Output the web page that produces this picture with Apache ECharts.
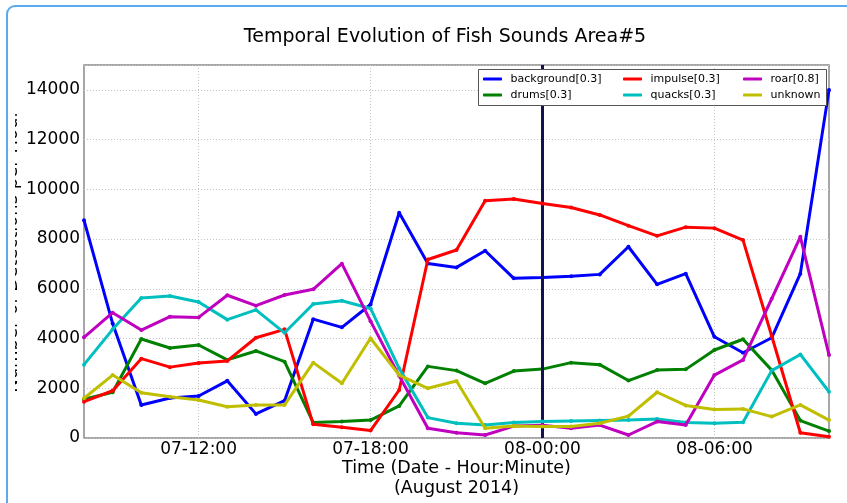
<!DOCTYPE html>
<html>
<head>
<meta charset="utf-8">
<title>Temporal Evolution of Fish Sounds Area#5</title>
<script src="https://cdn.jsdelivr.net/npm/echarts@6/dist/echarts.min.js"></script>
<style>
  html, body { margin: 0; padding: 0; background: #ffffff; overflow: hidden; }
  #frame {
    position: absolute; left: 6px; top: 5px; width: 900px; height: 600px;
    border: 2px solid #5aaaf0; border-radius: 9px; box-sizing: border-box;
  }
  #chart { position: absolute; left: 15px; top: 8px; width: 832px; height: 495px; }
</style>
</head>
<body>
<div id="frame"></div>
<div id="chart"></div>
<script>
// Hourly sample times (day-hour:minute), August 2014
const hours = [
  '07-08:00', '07-09:00', '07-10:00', '07-11:00', '07-12:00', '07-13:00', '07-14:00',
  '07-15:00', '07-16:00', '07-17:00', '07-18:00', '07-19:00', '07-20:00', '07-21:00',
  '07-22:00', '07-23:00', '08-00:00', '08-01:00', '08-02:00', '08-03:00', '08-04:00',
  '08-05:00', '08-06:00', '08-07:00', '08-08:00', '08-09:00', '08-10:00'
];
const xTickLabels = ['07-12:00', '07-18:00', '08-00:00', '08-06:00'];
const markerTime = '08-00:00';

// Sound counts per class
const background = [8760, 4600, 1330, 1610, 1690, 2300, 970, 1500, 4780, 4450, 5370, 9060, 7020, 6860, 7530, 6420, 6450, 6500, 6580, 7690, 6180, 6610, 4070, 3430, 4030, 6610, 13990];
const drums      = [1560, 1840, 3980, 3620, 3740, 3140, 3500, 3070, 620, 660, 720, 1290, 2880, 2710, 2200, 2690, 2770, 3030, 2950, 2310, 2730, 2760, 3540, 3970, 2730, 700, 280];
const impulse    = [1460, 1900, 3190, 2850, 3020, 3100, 4030, 4370, 550, 430, 300, 1930, 7180, 7560, 9540, 9610, 9430, 9270, 8970, 8540, 8130, 8480, 8440, 7960, 4100, 210, 50];
const quacks     = [2950, 4370, 5630, 5710, 5470, 4760, 5150, 4230, 5390, 5520, 5210, 2800, 820, 590, 520, 620, 660, 680, 700, 720, 760, 620, 590, 630, 2710, 3360, 1860];
const roar       = [4050, 5040, 4340, 4880, 4850, 5740, 5320, 5750, 5980, 7010, 4700, 2500, 390, 210, 120, 480, 510, 390, 520, 120, 660, 520, 2530, 3140, 5600, 8090, 3340];
const unknown    = [1600, 2530, 1820, 1660, 1530, 1260, 1330, 1330, 3030, 2200, 4010, 2530, 2000, 2290, 390, 480, 460, 460, 590, 880, 1840, 1310, 1150, 1170, 860, 1330, 720];

const seriesNames = ['background[0.3]', 'drums[0.3]', 'impulse[0.3]', 'quacks[0.3]', 'roar[0.8]', 'unknown'];
const seriesData = [background, drums, impulse, quacks, roar, unknown];
const seriesColors = ['#0000ff', '#008000', '#ff0000', '#00bfbf', '#bf00bf', '#bfbf00'];

const FONT = 'DejaVu Sans';
const showTick = (idx) => xTickLabels.indexOf(hours[idx]) >= 0;

const series = seriesNames.map((name, i) => ({
  name: name,
  type: 'line',
  data: seriesData[i],
  color: seriesColors[i],
  symbol: 'circle',
  symbolSize: 4,
  showSymbol: true,
  lineStyle: { width: 3, color: seriesColors[i] },
  itemStyle: { color: seriesColors[i] },
  emphasis: { disabled: true },
  animation: false,
  z: 3 + i
}));

// Vertical marker at midnight
series.push({
  name: 'marker',
  type: 'line',
  data: [],
  animation: false,
  z: 20,
  markLine: {
    silent: true,
    symbol: ['none', 'none'],
    label: { show: false },
    lineStyle: { color: '#12124e', width: 3, type: 'solid' },
    data: [{ xAxis: markerTime }]
  }
});

const legendCommon = {
  orient: 'vertical',
  icon: 'roundRect',
  itemWidth: 19,
  itemHeight: 3,
  itemGap: 0,
  padding: 0,
  z: 80,
  selectedMode: false,
  formatter: ' {name}',
  textStyle: { fontFamily: FONT, fontSize: 11, color: '#000', lineHeight: 16 }
};

const option = {
  backgroundColor: 'transparent',
  animation: false,
  title: {
    text: 'Temporal Evolution of Fish Sounds Area#5',
    left: 425,
    textAlign: 'center',
    top: 15,
    textStyle: { fontFamily: FONT, fontSize: 19, fontWeight: 'normal', color: '#000' }
  },
  legend: [
    Object.assign({ left: 468, top: 63, data: [seriesNames[0], seriesNames[1]] }, legendCommon),
    Object.assign({ left: 608, top: 63, data: [seriesNames[2], seriesNames[3]] }, legendCommon),
    Object.assign({ left: 728, top: 63, data: [seriesNames[4], seriesNames[5]] }, legendCommon)
  ],
  graphic: [{
    type: 'rect',
    left: 463, top: 61,
    shape: { width: 348, height: 36 },
    style: { fill: '#ffffff', stroke: '#555555', lineWidth: 1 },
    z: 50
  }],
  grid: {
    left: 69, right: 18, top: 57, bottom: 65,
    containLabel: false,
    outerBoundsMode: 'none',
    show: true, borderColor: '#8a8a8a', borderWidth: 1.5, backgroundColor: '#ffffff'
  },
  xAxis: {
    type: 'category',
    data: hours,
    boundaryGap: false,
    name: 'Time (Date - Hour:Minute)\n(August 2014)',
    nameLocation: 'middle',
    nameGap: 20,
    nameMoveOverlap: false,
    nameTextStyle: { fontFamily: FONT, fontSize: 17.5, color: '#000', lineHeight: 20, verticalAlign: 'top' },
    axisLine: { show: false },
    axisTick: { show: false },
    axisLabel: {
      interval: (idx) => showTick(idx),
      fontFamily: FONT, fontSize: 17, color: '#000', margin: 3
    },
    splitLine: {
      show: true,
      interval: (idx) => showTick(idx),
      lineStyle: { color: '#c4c4c4', type: [1, 2], width: 1 }
    }
  },
  yAxis: {
    type: 'value',
    min: 0, max: 15000, interval: 2000,
    name: 'Number of Detections per Hour',
    nameLocation: 'middle',
    nameGap: 63,
    nameMoveOverlap: false,
    nameTextStyle: { fontFamily: FONT, fontSize: 18, color: '#000' },
    axisLine: { show: false },
    axisTick: { show: false },
    axisLabel: {
      fontFamily: FONT, fontSize: 17, color: '#000', margin: 4, showMaxLabel: false,
      formatter: (v) => String(v)
    },
    splitLine: { show: true, lineStyle: { color: '#c4c4c4', type: [1, 2], width: 1 } }
  },
  series: series
};

const chart = echarts.init(document.getElementById('chart'), null, { renderer: 'canvas' });
chart.setOption(option);
</script>
</body>
</html>
